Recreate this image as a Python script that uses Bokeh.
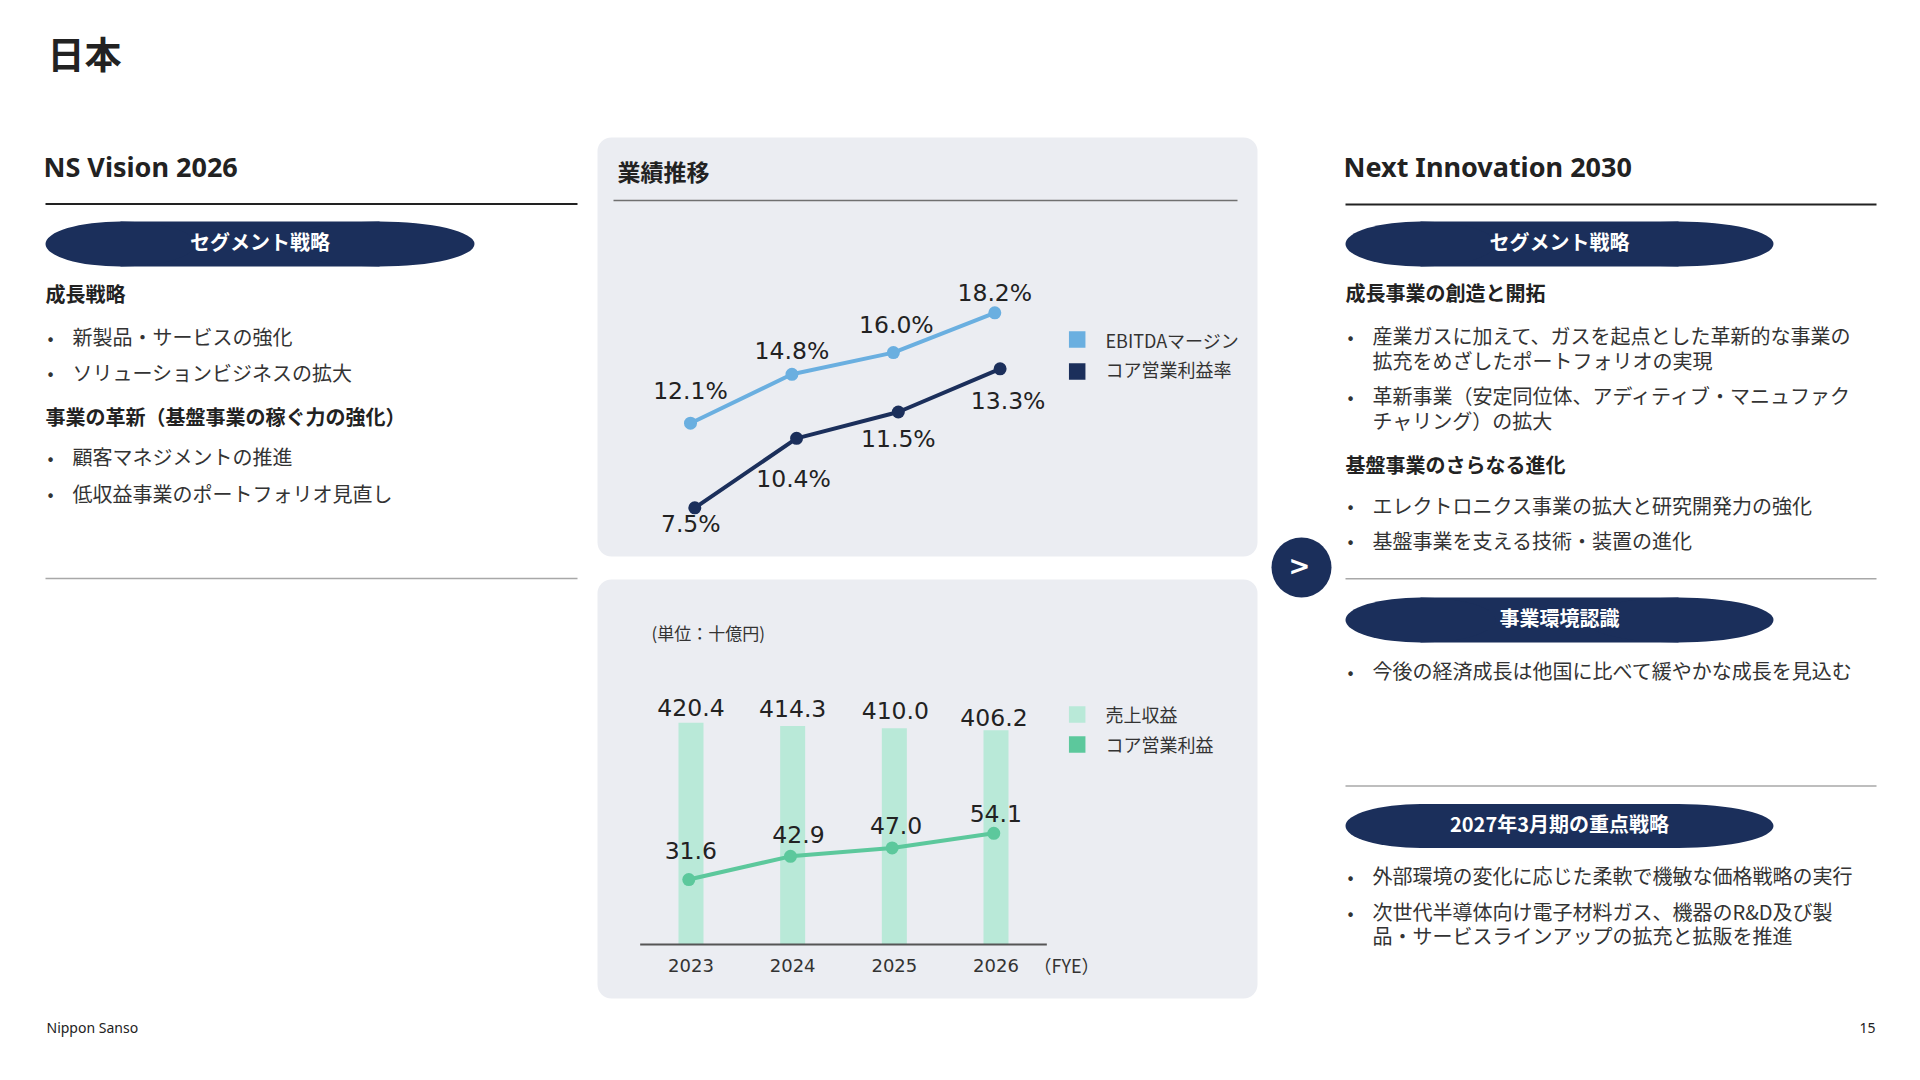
import numpy as np
from bokeh.plotting import figure
from bokeh.models import Range1d
from bokeh.core.properties import value
from bokeh.embed import file_html
from bokeh.resources import INLINE

# Data
years = ["2023", "2024", "2025", "2026"]
ebitda_margin = [12.1, 14.8, 16.0, 18.2]      # EBITDAマージン (%)
core_op_margin = [7.5, 10.4, 11.5, 13.3]      # コア営業利益率 (%)
revenue = [420.4, 414.3, 410.0, 406.2]        # 売上収益 (十億円)
core_op_profit = [31.6, 42.9, 47.0, 54.1]     # コア営業利益 (十億円)

# label nudges (screen px), as placed on the slide
eb_dx, eb_dy = [0, 0, 3, 0], [-32, -23, -28, -20]
co_dx, co_dy = [-4, -3, 0, 8], [16, 41, 27, 32]
rv_dx, rv_dy = [0, 0, 1, -2], [-15, -17, -18, -13]
op_dx, op_dy = [2, 8, 4, 2], [-29, -22, -22, -20]

# Styles
JP = "Noto Sans CJK JP"
LAT = "Noto Sans"
NUM = "DejaVu Sans"
NAVY = "#1b2f5b"
BLUE = "#6aafe0"
MINT = "#b9e9d8"
GREEN = "#5cc89c"
PANEL = "#ebedf2"
DARK = "#222222"
BODY = "#333333"

# page pixels: the plot sits at the top-left corner of the window
W, H = 1904, 1064
X0, X1 = 0, W
Y0, Y1 = 0, H

p = figure(width=W, height=H, x_range=Range1d(X0, X1), y_range=Range1d(Y1, Y0),
           x_axis_location=None, y_axis_location=None, title=None,
           output_backend="svg", toolbar_location=None, min_border=0)
p.grid.visible = False
p.outline_line_color = None
p.background_fill_color = "white"
p.border_fill_color = "white"


def span(p0, p1, v0, v1, lo, hi):
    # a range in which v0 and v1 fall on page pixels p0 and p1
    k = (v1 - v0) / (p1 - p0)
    return Range1d(start=v0 + (lo - p0) * k, end=v0 + (hi - p0) * k)


def txt(x, y, s, size, font=JP, bold=False, color=BODY, align="left"):
    p.text([x], [y], text=[s], text_font=value(font), text_font_size=f"{size}px",
           text_font_style="bold" if bold else "normal", text_color=color,
           text_align=align, text_baseline="middle")


def pill(x0, x1, ytop, ybot, label):
    h = ybot - ytop
    yc = (ytop + ybot) / 2
    rl, rr = 75, 95
    p.quad(left=[x0 + rl], right=[x1 - rr], top=[ytop], bottom=[ybot],
           fill_color=NAVY, line_color=None)
    p.ellipse([x0 + rl, x1 - rr], [yc, yc], width=[2 * rl, 2 * rr], height=[h, h],
              width_units="screen", height_units="screen", fill_color=NAVY, line_color=None)
    txt((x0 + x1) / 2, yc - 3, label, 20, bold=True, color="white", align="center")


def bullet(x, y, s):
    txt(x, y, "•", 18, color=BODY)
    txt(x + 25, y, s, 20)


# Chart scales placed inside the panels
idx = list(range(len(years)))
p.extra_x_ranges = {
    "eb_x": span(690, 994.3, 0, 3, X0, X1),
    "co_x": span(694.3, 999.6, 0, 3, X0, X1),
    "rv_x": span(690.5, 995.5, 0, 3, X0, X1),
    "op_x": span(688.3, 993.3, 0, 3, X0, X1),
}
p.extra_y_ranges = {
    "eb_y": span(641.7, 279.7, 0, 20, Y1, Y0),
    "co_y": span(687.1, 327.6, 0, 15, Y1, Y0),
    "rv_y": span(944, 733, 0, 400, Y1, Y0),
    "op_y": span(944, 841.25, 0, 50, Y1, Y0),
}

# Header
txt(47, 52, "日本", 37, bold=True, color=DARK)

# Left column: NS Vision 2026
txt(43, 166, "NS Vision 2026", 27, font=LAT, bold=True, color=DARK)
p.segment(x0=[45], y0=[203.5], x1=[577], y1=[203.5], line_color=DARK, line_width=2)
pill(45, 474, 221, 266, "セグメント戦略")
txt(45, 293, "成長戦略", 20, bold=True, color=DARK)
bullet(47, 336, "新製品・サービスの強化")
bullet(47, 371.5, "ソリューションビジネスの拡大")
txt(45, 415.5, "事業の革新（基盤事業の稼ぐ力の強化）", 20, bold=True, color=DARK)
bullet(47, 456, "顧客マネジメントの推進")
bullet(47, 492.5, "低収益事業のポートフォリオ見直し")
p.segment(x0=[45], y0=[578], x1=[577], y1=[578], line_color="#a8a8a8", line_width=1.5)

# Middle panels
p.quad(left=[597, 597], right=[1257, 1257], top=[137, 579], bottom=[556, 998],
       fill_color=PANEL, line_color=None, border_radius=14)
txt(617, 170.5, "業績推移", 23, bold=True, color=DARK)
p.segment(x0=[613], y0=[200], x1=[1237], y1=[200], line_color="#707070", line_width=1.5)

# Top chart: margins
p.line(idx, ebitda_margin, x_range_name="eb_x", y_range_name="eb_y",
       line_color=BLUE, line_width=4)
p.scatter(idx, ebitda_margin, x_range_name="eb_x", y_range_name="eb_y",
          size=13, fill_color=BLUE, line_color=None)
p.text(idx, ebitda_margin, text=[f"{v:.1f}%" for v in ebitda_margin],
       x_offset=eb_dx, y_offset=eb_dy, x_range_name="eb_x", y_range_name="eb_y",
       text_font=value(NUM), text_font_size="23.5px", text_color=DARK,
       text_align="center", text_baseline="middle")

p.line(idx, core_op_margin, x_range_name="co_x", y_range_name="co_y",
       line_color=NAVY, line_width=4)
p.scatter(idx, core_op_margin, x_range_name="co_x", y_range_name="co_y",
          size=13, fill_color=NAVY, line_color=None)
p.text(idx, core_op_margin, text=[f"{v:.1f}%" for v in core_op_margin],
       x_offset=co_dx, y_offset=co_dy, x_range_name="co_x", y_range_name="co_y",
       text_font=value(NUM), text_font_size="23.5px", text_color=DARK,
       text_align="center", text_baseline="middle")

# Top legend
p.scatter([1076.7, 1076.7], [339, 371], marker="square", size=16.5,
          fill_color=[BLUE, NAVY], line_color=None)
txt(1105, 339, "EBITDAマージン", 18)
txt(1105, 368.5, "コア営業利益率", 18)

# Bottom chart: revenue bars and core operating profit
txt(651, 632, "(単位：十億円)", 17)
p.vbar(x=idx, top=revenue, bottom=0, width=0.246, x_range_name="rv_x", y_range_name="rv_y",
       fill_color=MINT, line_color=None)
p.text(idx, revenue, text=[f"{v:.1f}" for v in revenue],
       x_offset=rv_dx, y_offset=rv_dy, x_range_name="rv_x", y_range_name="rv_y",
       text_font=value(NUM), text_font_size="23.5px", text_color=DARK,
       text_align="center", text_baseline="middle")
p.segment(x0=[-0.5], y0=[0], x1=[3.5], y1=[0], x_range_name="rv_x", y_range_name="rv_y",
          line_color="#555555", line_width=2)

p.line(idx, core_op_profit, x_range_name="op_x", y_range_name="op_y",
       line_color=GREEN, line_width=4)
p.scatter(idx, core_op_profit, x_range_name="op_x", y_range_name="op_y",
          size=13, fill_color=GREEN, line_color=None)
p.text(idx, core_op_profit, text=[f"{v:.1f}" for v in core_op_profit],
       x_offset=op_dx, y_offset=op_dy, x_range_name="op_x", y_range_name="op_y",
       text_font=value(NUM), text_font_size="23.5px", text_color=DARK,
       text_align="center", text_baseline="middle")

p.text(idx, [965] * len(years), text=years, x_range_name="rv_x",
       text_font=value(NUM), text_font_size="18px", text_color=BODY,
       text_align="center", text_baseline="middle")
txt(1066, 964, "（FYE）", 18, align="center")

# Bottom legend
p.scatter([1076.7, 1076.7], [714, 744], marker="square", size=16.5,
          fill_color=[MINT, GREEN], line_color=None)
txt(1105, 713, "売上収益", 18)
txt(1105, 743, "コア営業利益", 18)

# Arrow between columns
p.scatter([1301], [567], marker="circle", size=60, fill_color=NAVY, line_color=None)
txt(1299, 565, ">", 26, font=NUM, bold=True, color="white", align="center")

# Right column: Next Innovation 2030
txt(1343, 166, "Next Innovation 2030", 27, font=LAT, bold=True, color=DARK)
p.segment(x0=[1345], y0=[204], x1=[1876], y1=[204], line_color=DARK, line_width=2)
pill(1345, 1773, 221, 266, "セグメント戦略")
txt(1345, 292, "成長事業の創造と開拓", 20, bold=True, color=DARK)
bullet(1347, 335, "産業ガスに加えて、ガスを起点とした革新的な事業の")
txt(1372, 359.5, "拡充をめざしたポートフォリオの実現", 20)
bullet(1347, 395, "革新事業（安定同位体、アディティブ・マニュファク")
txt(1372, 419.5, "チャリング）の拡大", 20)
txt(1345, 463.5, "基盤事業のさらなる進化", 20, bold=True, color=DARK)
bullet(1347, 504.5, "エレクトロニクス事業の拡大と研究開発力の強化")
bullet(1347, 539.5, "基盤事業を支える技術・装置の進化")
p.segment(x0=[1345], y0=[578.3], x1=[1876], y1=[578.3], line_color="#a8a8a8", line_width=1.5)

pill(1345, 1773, 597, 642, "事業環境認識")
bullet(1347, 670, "今後の経済成長は他国に比べて緩やかな成長を見込む")
p.segment(x0=[1345], y0=[785.5], x1=[1876], y1=[785.5], line_color="#a8a8a8", line_width=1.5)

pill(1345, 1773, 803.5, 847.5, "2027年3月期の重点戦略")
bullet(1347, 875, "外部環境の変化に応じた柔軟で機敏な価格戦略の実行")
bullet(1347, 911, "次世代半導体向け電子材料ガス、機器のR&D及び製")
txt(1372, 934.5, "品・サービスラインアップの拡充と拡販を推進", 20)

# Footer
txt(46, 1027, "Nippon Sanso", 14, font=LAT, color=DARK)
txt(1875, 1027, "15", 14, font=LAT, color=DARK, align="right")

open("out.html", "w").write(file_html(p, INLINE))
